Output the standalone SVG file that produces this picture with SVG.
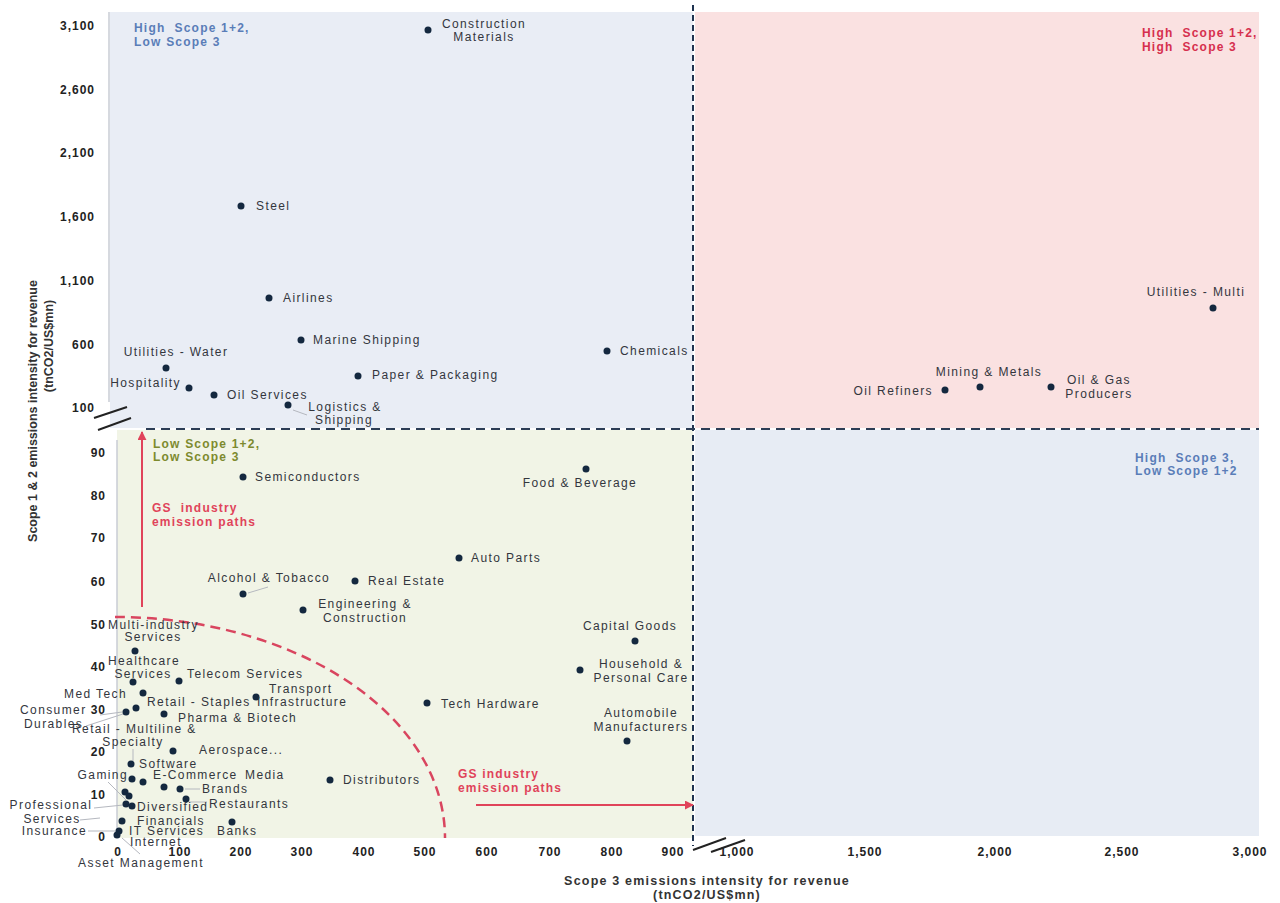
<svg xmlns="http://www.w3.org/2000/svg" width="1280" height="903" viewBox="0 0 1280 903">
<defs>
<style>
.lbl{font-family:"Liberation Sans",Arial,sans-serif;font-size:12px;fill:#33363d;letter-spacing:1.4px}
.tick{font-family:"Liberation Sans",Arial,sans-serif;font-size:12px;font-weight:bold;fill:#222;letter-spacing:1px}
.title{font-family:"Liberation Sans",Arial,sans-serif;font-size:12.5px;font-weight:bold;fill:#333}
.q{font-family:"Liberation Sans",Arial,sans-serif;font-size:12px;font-weight:bold;letter-spacing:1.2px}
.qb{fill:#5a7db8}.qr{fill:#d62f4e}.qg{fill:#7d8a2e}
.gs{font-family:"Liberation Sans",Arial,sans-serif;font-size:12px;font-weight:bold;fill:#e0435a;letter-spacing:1.2px}
.dot{fill:#14283f}
.lead{stroke:#b5b8bf;stroke-width:1;fill:none}
.brk{stroke:#222;stroke-width:2}
</style>
<marker id="ah" viewBox="0 0 10 10" refX="9" refY="5" markerWidth="9" markerHeight="9" markerUnits="userSpaceOnUse" orient="auto">
<path d="M0,0 L10,5 L0,10 z" fill="#e0435a"/>
</marker>
</defs>
<rect width="1280" height="903" fill="#ffffff"/>
<g id="background">
<rect x="110" y="12" width="583" height="416" fill="#e9edf5"/>
<rect x="695" y="12" width="564" height="416" fill="#fae1e1"/>
<rect x="117" y="430" width="576" height="408" fill="#f1f4e6"/>
<rect x="695" y="430" width="564" height="406" fill="#e7ecf4"/>
<line x1="109" y1="12" x2="109" y2="402" stroke="#c8ccd4" stroke-width="1.5"/>
<line x1="117" y1="440" x2="117" y2="838" stroke="#c8ccd4" stroke-width="1.5"/>
</g>
<g id="axes">
<line class="brk" x1="94" y1="418" x2="127" y2="407"/>
<line class="brk" x1="98" y1="430" x2="131" y2="418"/>
<line class="brk" x1="693" y1="850" x2="726" y2="838"/>
<line class="brk" x1="711" y1="852" x2="745" y2="840"/>
<g text-anchor="end">
<text class="tick" x="95" y="30">3,100</text>
<text class="tick" x="95" y="94">2,600</text>
<text class="tick" x="95" y="157">2,100</text>
<text class="tick" x="95" y="221">1,600</text>
<text class="tick" x="95" y="285">1,100</text>
<text class="tick" x="95" y="349">600</text>
<text class="tick" x="95" y="412">100</text>
<text class="tick" x="106" y="457">90</text>
<text class="tick" x="106" y="500">80</text>
<text class="tick" x="106" y="542">70</text>
<text class="tick" x="106" y="586">60</text>
<text class="tick" x="106" y="629">50</text>
<text class="tick" x="106" y="671">40</text>
<text class="tick" x="106" y="799">10</text>
<text class="tick" x="106" y="756">20</text>
<text class="tick" x="106" y="841">0</text>
</g>
<g text-anchor="middle">
<text class="tick" x="118" y="856">0</text>
<text class="tick" x="180" y="856">100</text>
<text class="tick" x="241" y="856">200</text>
<text class="tick" x="302" y="856">300</text>
<text class="tick" x="364" y="856">400</text>
<text class="tick" x="425" y="856">500</text>
<text class="tick" x="487" y="856">600</text>
<text class="tick" x="550" y="856">700</text>
<text class="tick" x="612" y="856">800</text>
<text class="tick" x="673" y="856">900</text>
<text class="tick" x="737" y="856">1,000</text>
<text class="tick" x="865" y="856">1,500</text>
<text class="tick" x="995" y="856">2,000</text>
<text class="tick" x="1122" y="856">2,500</text>
<text class="tick" x="1250" y="856">3,000</text>
<text class="title" x="707" y="885" letter-spacing="1.2">Scope 3 emissions  intensity for revenue</text>
<text class="title" x="707" y="899" letter-spacing="1.2">(tnCO2/US$mn)</text>
<text class="title" transform="translate(37,411) rotate(-90)">Scope 1 &amp; 2 emissions intensity for revenue</text>
<text class="title" transform="translate(53,346) rotate(-90)">(tnCO2/US$mn)</text>
</g>
</g>
<g id="quadrant-labels">
<text class="q qb" x="134" y="32" xml:space="preserve">High  Scope 1+2,</text>
<text class="q qb" x="134" y="46">Low Scope 3</text>
<text class="q qr" x="1142" y="37" xml:space="preserve">High  Scope 1+2,</text>
<text class="q qr" x="1142" y="51" xml:space="preserve">High  Scope 3</text>
<text class="q qb" x="1135" y="462" xml:space="preserve">High  Scope 3,</text>
<text class="q qb" x="1135" y="475">Low Scope 1+2</text>
<text class="q qg" x="153" y="448">Low Scope 1+2,</text>
<text class="q qg" x="153" y="461">Low Scope 3</text>
<text class="gs" x="152" y="512" xml:space="preserve">GS  industry</text>
<text class="gs" x="152" y="526">emission paths</text>
<text class="gs" x="458" y="778">GS industry</text>
<text class="gs" x="458" y="792">emission paths</text>
</g>
<g id="connectors">
<line x1="693" y1="5" x2="693" y2="846" stroke="#1f3350" stroke-width="2" stroke-dasharray="6 4"/>
<line x1="146" y1="429" x2="1259" y2="429" stroke="#2c3d55" stroke-width="2" stroke-dasharray="9 6"/>
<path d="M115 617 A330 221 0 0 1 445 838" fill="none" stroke="#d9455f" stroke-width="2.5" stroke-dasharray="10 6"/>
<line x1="142" y1="607" x2="142" y2="432" stroke="#e0435a" stroke-width="2" marker-end="url(#ah)"/>
<line x1="476" y1="805" x2="693" y2="805" stroke="#e0435a" stroke-width="2" marker-end="url(#ah)"/>
<line class="lead" x1="293" y1="410" x2="307" y2="415"/>
<line class="lead" x1="248" y1="593" x2="268" y2="587"/>
<line class="lead" x1="100" y1="715" x2="122" y2="712"/>
<line class="lead" x1="86" y1="726" x2="123" y2="714"/>
<line class="lead" x1="133" y1="749" x2="133" y2="761"/>
<line class="lead" x1="108" y1="782" x2="126" y2="800"/>
<line class="lead" x1="94" y1="808" x2="123" y2="805"/>
<line class="lead" x1="80" y1="820" x2="100" y2="818"/>
<line class="lead" x1="185" y1="789" x2="200" y2="789"/>
<line class="lead" x1="189" y1="802" x2="207" y2="802"/>
<line class="lead" x1="88" y1="831" x2="115" y2="831"/>
<line class="lead" x1="122" y1="838" x2="140" y2="854"/>
</g>
<g id="nodes">
<g id="construction-materials"><circle class="dot" cx="428" cy="30" r="3.5"/><text class="lbl" x="484" y="28" text-anchor="middle">Construction</text><text class="lbl" x="484" y="41" text-anchor="middle">Materials</text></g>
<g id="steel"><circle class="dot" cx="241" cy="206" r="3.5"/><text class="lbl" x="256" y="210">Steel</text></g>
<g id="airlines"><circle class="dot" cx="269" cy="298" r="3.5"/><text class="lbl" x="283" y="302">Airlines</text></g>
<g id="marine-shipping"><circle class="dot" cx="301" cy="340" r="3.5"/><text class="lbl" x="313" y="344">Marine Shipping</text></g>
<g id="chemicals"><circle class="dot" cx="607" cy="351" r="3.5"/><text class="lbl" x="620" y="355">Chemicals</text></g>
<g id="utilities-water"><circle class="dot" cx="166" cy="368" r="3.5"/><text class="lbl" x="176" y="356" text-anchor="middle">Utilities - Water</text></g>
<g id="hospitality"><circle class="dot" cx="189" cy="388" r="3.5"/><text class="lbl" x="181" y="387" text-anchor="end">Hospitality</text></g>
<g id="paper-packaging"><circle class="dot" cx="358" cy="376" r="3.5"/><text class="lbl" x="372" y="379">Paper &amp; Packaging</text></g>
<g id="oil-services"><circle class="dot" cx="214" cy="395" r="3.5"/><text class="lbl" x="227" y="399">Oil Services</text></g>
<g id="logistics-shipping"><circle class="dot" cx="288" cy="405" r="3.5"/><text class="lbl" x="345" y="411" text-anchor="middle">Logistics &amp;</text><text class="lbl" x="344" y="424" text-anchor="middle">Shipping</text></g>
<g id="utilities-multi"><circle class="dot" cx="1213" cy="308" r="3.5"/><text class="lbl" x="1196" y="296" text-anchor="middle">Utilities - Multi</text></g>
<g id="mining-metals"><circle class="dot" cx="980" cy="387" r="3.5"/><text class="lbl" x="989" y="376" text-anchor="middle">Mining &amp; Metals</text></g>
<g id="oil-refiners"><circle class="dot" cx="945" cy="390" r="3.5"/><text class="lbl" x="933" y="395" text-anchor="end">Oil Refiners</text></g>
<g id="oil-gas-producers"><circle class="dot" cx="1051" cy="387" r="3.5"/><text class="lbl" x="1099" y="384" text-anchor="middle">Oil &amp; Gas</text><text class="lbl" x="1099" y="398" text-anchor="middle">Producers</text></g>
<g id="food-beverage"><circle class="dot" cx="586" cy="469" r="3.5"/><text class="lbl" x="580" y="487" text-anchor="middle">Food &amp; Beverage</text></g>
<g id="semiconductors"><circle class="dot" cx="243" cy="477" r="3.5"/><text class="lbl" x="255" y="481">Semiconductors</text></g>
<g id="auto-parts"><circle class="dot" cx="459" cy="558" r="3.5"/><text class="lbl" x="471" y="562">Auto Parts</text></g>
<g id="alcohol-tobacco"><circle class="dot" cx="243" cy="594" r="3.5"/><text class="lbl" x="269" y="582" text-anchor="middle">Alcohol &amp; Tobacco</text></g>
<g id="real-estate"><circle class="dot" cx="355" cy="581" r="3.5"/><text class="lbl" x="368" y="585">Real Estate</text></g>
<g id="engineering-construction"><circle class="dot" cx="303" cy="610" r="3.5"/><text class="lbl" x="365" y="608" text-anchor="middle">Engineering &amp;</text><text class="lbl" x="365" y="622" text-anchor="middle">Construction</text></g>
<g id="capital-goods"><circle class="dot" cx="635" cy="641" r="3.5"/><text class="lbl" x="630" y="630" text-anchor="middle">Capital Goods</text></g>
<g id="multi-industry-services"><circle class="dot" cx="135" cy="651" r="3.5"/><text class="lbl" x="108" y="629">Multi-industry</text><text class="lbl" x="153" y="641" text-anchor="middle">Services</text></g>
<g id="household-personal-care"><circle class="dot" cx="580" cy="670" r="3.5"/><text class="lbl" x="641" y="668" text-anchor="middle">Household &amp;</text><text class="lbl" x="641" y="682" text-anchor="middle">Personal Care</text></g>
<g id="healthcare-services"><circle class="dot" cx="133" cy="682" r="3.5"/><text class="lbl" x="144" y="665" text-anchor="middle">Healthcare</text><text class="lbl" x="143" y="678" text-anchor="middle">Services</text></g>
<g id="telecom-services"><circle class="dot" cx="179" cy="681" r="3.5"/><text class="lbl" x="187" y="678">Telecom Services</text></g>
<g id="med-tech"><circle class="dot" cx="143" cy="693" r="3.5"/><text class="lbl" x="127" y="698" text-anchor="end">Med Tech</text></g>
<g id="transport-infrastructure"><circle class="dot" cx="256" cy="697" r="3.5"/><text class="lbl" x="269" y="693">Transport</text><text class="lbl" x="257" y="706">Infrastructure</text></g>
<g id="retail-staples"><circle class="dot" cx="136" cy="708" r="3.5"/><text class="lbl" x="147" y="706">Retail - Staples</text></g>
<g id="consumer-durables"><circle class="dot" cx="126" cy="712" r="3.5"/><text class="lbl" x="20" y="714">Consumer</text><text class="lbl" x="24" y="728">Durables</text></g>
<text class="tick" x="106" y="714" text-anchor="end">30</text>
<g id="tech-hardware"><circle class="dot" cx="427" cy="703" r="3.5"/><text class="lbl" x="441" y="708">Tech Hardware</text></g>
<g id="pharma-biotech"><circle class="dot" cx="164" cy="714" r="3.5"/><text class="lbl" x="178" y="722">Pharma &amp; Biotech</text></g>
<g id="automobile-manufacturers"><circle class="dot" cx="627" cy="741" r="3.5"/><text class="lbl" x="641" y="717" text-anchor="middle">Automobile</text><text class="lbl" x="641" y="731" text-anchor="middle">Manufacturers</text></g>
<g id="retail-multiline-specialty"><text class="lbl" x="72" y="733">Retail - Multiline &amp;</text><text class="lbl" x="133" y="746" text-anchor="middle">Specialty</text></g>
<g id="aerospace"><circle class="dot" cx="173" cy="751" r="3.5"/><text class="lbl" x="199" y="754">Aerospace...</text></g>
<g id="software"><circle class="dot" cx="131" cy="764" r="3.5"/><text class="lbl" x="139" y="768">Software</text></g>
<g id="gaming"><circle class="dot" cx="132" cy="779" r="3.5"/><text class="lbl" x="128" y="779" text-anchor="end">Gaming</text></g>
<g id="e-commerce"><circle class="dot" cx="143" cy="782" r="3.5"/><text class="lbl" x="153" y="779">E-Commerce</text></g>
<g id="media"><circle class="dot" cx="164" cy="787" r="3.5"/><text class="lbl" x="245" y="779">Media</text></g>
<g id="brands"><circle class="dot" cx="180" cy="789" r="3.5"/><text class="lbl" x="202" y="793">Brands</text></g>
<g id="restaurants"><circle class="dot" cx="186" cy="799" r="3.5"/><text class="lbl" x="209" y="808">Restaurants</text></g>
<g id="distributors"><circle class="dot" cx="330" cy="780" r="3.5"/><text class="lbl" x="343" y="784">Distributors</text></g>
<g id="professional-services"><circle class="dot" cx="125" cy="792" r="3.5"/><circle class="dot" cx="129" cy="796" r="3.5"/><text class="lbl" x="51" y="809" text-anchor="middle">Professional</text><text class="lbl" x="52" y="823" text-anchor="middle">Services</text></g>
<g id="diversified-financials"><circle class="dot" cx="126" cy="804" r="3.5"/><circle class="dot" cx="132" cy="806" r="3.5"/><text class="lbl" x="137" y="811">Diversified</text><text class="lbl" x="137" y="825">Financials</text></g>
<g id="banks"><circle class="dot" cx="232" cy="822" r="3.5"/><text class="lbl" x="217" y="835">Banks</text></g>
<g id="it-services"><circle class="dot" cx="122" cy="821" r="3.5"/><text class="lbl" x="129" y="835">IT Services</text></g>
<g id="insurance"><circle class="dot" cx="119" cy="831" r="3.5"/><text class="lbl" x="87" y="835" text-anchor="end">Insurance</text></g>
<g id="internet"><circle class="dot" cx="117" cy="835" r="3.5"/><text class="lbl" x="130" y="846">Internet</text></g>
<g id="asset-management"><text class="lbl" x="141" y="867" text-anchor="middle">Asset Management</text></g>
</g>
</svg>
